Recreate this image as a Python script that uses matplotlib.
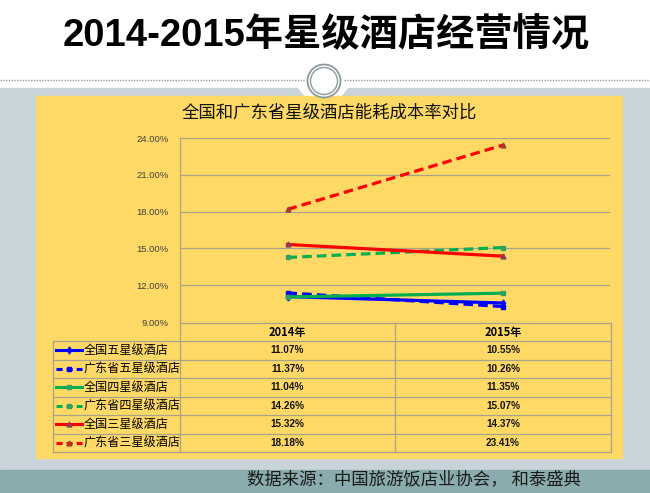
import matplotlib.pyplot as plt
from matplotlib.patches import Rectangle, Ellipse, Polygon
from matplotlib.lines import Line2D

# data (energy cost rate, %)
years = ['2014年', '2015年']
series_names = ['全国五星级酒店', '广东省五星级酒店', '全国四星级酒店',
                '广东省四星级酒店', '全国三星级酒店', '广东省三星级酒店']
quanguo_5 = [11.07, 10.55]
guangdong_5 = [11.37, 10.26]
quanguo_4 = [11.04, 11.35]
guangdong_4 = [14.26, 15.07]
quanguo_3 = [15.32, 14.37]
guangdong_3 = [18.18, 23.41]
y_ticks = [9, 12, 15, 18, 21, 24]

series = [quanguo_5, guangdong_5, quanguo_4, guangdong_4, quanguo_3, guangdong_3]
colors = ['#0000FF', '#0000FF', '#00B050', '#00B050', '#FF0000', '#FF0000']
styles = ['-', '--', '-', '--', '-', '--']
markers = ['d', 's', 's', 's', '^', '^']
mcolors = ['#0000FF', '#0000FF', '#33A060', '#33A060', '#8E3A5A', '#A04030']

W, H = 650, 493
cjk = ['Noto Sans CJK SC', 'DejaVu Sans']
grid_c = '#A8A28C'
dash = (3.0, 1.6)

fig = plt.figure(figsize=(6.5, 4.93), dpi=100)
fig.patch.set_facecolor('white')

# background layer in pixel coordinates
bg = fig.add_axes([0, 0, 1, 1])
bg.set_xlim(0, W)
bg.set_ylim(H, 0)
bg.axis('off')

bg.add_patch(Rectangle((0, 88), W, 382, color='#C9D4DA', zorder=1))
bg.add_patch(Polygon([(298, 87), (348, 87), (340, 97), (306, 97)], color='white', zorder=2))
bg.add_patch(Rectangle((0, 470), W, 23, color='#8AACAE', zorder=1))
bg.add_patch(Rectangle((36, 96), 586, 362, color='#FFD966', zorder=3))

bg.plot([0, 305], [79.5, 79.5], color='#9A9A9A', lw=1, ls=(0, (1, 1)), zorder=2)
bg.plot([344, W], [79.5, 79.5], color='#9A9A9A', lw=1, ls=(0, (1, 1)), zorder=2)
bg.add_patch(Ellipse((324, 81), 33, 33, facecolor='white', edgecolor='#8C9A9E', lw=1.3, zorder=4))
bg.add_patch(Ellipse((324, 81), 27, 27, facecolor='none', edgecolor='#8C9A9E', lw=1.0, zorder=4))

bg.text(326, 36, '2014-2015年星级酒店经营情况', ha='center', va='center',
        fontsize=27.5, fontweight='bold', family=['Liberation Sans', 'Noto Sans CJK SC'], zorder=5)
bg.text(329, 113, '全国和广东省星级酒店能耗成本率对比', ha='center', va='center',
        fontsize=12.5, family=cjk, color='#111111', zorder=5)
bg.text(414, 479, '数据来源：中国旅游饭店业协会， 和泰盛典', ha='center', va='center',
        fontsize=12.5, family=cjk, color='#1A1A1A', zorder=5)

# data table below the plot
left, c1, c2, right = 53, 180, 395, 611
head_top, row_top, row_h = 323, 341, 18.5
bottom = row_top + row_h * len(series)
lk = dict(color=grid_c, lw=0.9, zorder=5)
bg.plot([c1, right], [head_top, head_top], **lk)
for i in range(len(series) + 1):
    y = row_top + i * row_h
    bg.plot([left, right], [y, y], **lk)
bg.plot([left, left], [row_top, bottom], **lk)
for x in (c1, c2, right):
    bg.plot([x, x], [head_top, bottom], **lk)

col_x = [(c1 + c2) / 2, (c2 + right) / 2]
for j, yr in enumerate(years):
    bg.text(col_x[j], (head_top + row_top) / 2 + 0.5, yr, ha='center', va='center',
            fontsize=8, fontweight='bold', family=cjk, zorder=6)

for i, vals in enumerate(series):
    yc = row_top + (i + 0.5) * row_h
    bg.add_line(Line2D([56, 82], [yc, yc], color=colors[i], ls=styles[i], lw=2.2,
                       dashes=(2.0, 1.3) if styles[i] == '--' else (None, None), zorder=6))
    bg.plot([69], [yc], marker=markers[i], ms=3.5, color=mcolors[i], zorder=7)
    bg.text(84, yc, series_names[i], ha='left', va='center', fontsize=8.7,
            family=cjk, zorder=6)
    for j, v in enumerate(vals):
        bg.text(col_x[j], yc, f'{v:.2f}%', ha='center', va='center', fontsize=7.2,
                fontweight='bold', family=['Liberation Sans'], color='#111111', zorder=6)

# line chart
ax = fig.add_axes([180 / W, 1 - 322 / H, 430 / W, 184 / H])
ax.set_facecolor('none')
ax.set_zorder(5)
x = list(range(len(years)))
for i, vals in enumerate(series):
    kw = dict(dashes=dash) if styles[i] == '--' else {}
    ax.plot(x, vals, color=colors[i], lw=2.3, ls=styles[i], **kw,
            marker=markers[i], ms=3.5, mfc=mcolors[i], mec=mcolors[i], zorder=3)
ax.set_xlim(-0.5, 1.5)
ax.set_ylim(9, 24)
ax.set_yticks(y_ticks)
ax.set_yticklabels([f'{v:.2f}%' for v in y_ticks], fontsize=6.8,
                   family='Liberation Sans', color='#404040')
ax.set_xticks([])
ax.tick_params(axis='y', length=0, pad=8)
ax.grid(axis='y', color=grid_c, lw=0.9)
for s in ('top', 'right', 'bottom'):
    ax.spines[s].set_visible(False)
ax.spines['left'].set_color(grid_c)
ax.spines['left'].set_linewidth(0.9)

fig.savefig('out.png', dpi=100)
